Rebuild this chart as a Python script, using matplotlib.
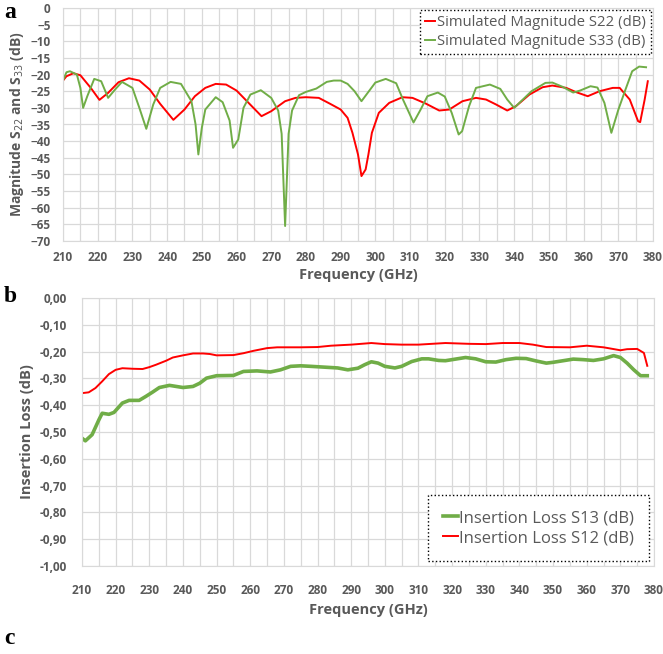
import matplotlib.pyplot as plt
from matplotlib.ticker import MultipleLocator, FuncFormatter

# --- S22 / S33 return loss (dB) ---
f_s22 = [210, 211, 213, 215, 218, 220.5, 223, 226, 229, 232, 235, 238, 241.8, 245, 248,
         251, 254, 257, 260, 263, 267.2, 270, 274, 277, 280, 283.7, 287, 290, 292, 293.4,
         295, 296, 297.2, 298, 299, 301, 304, 307.8, 310.7, 314.5, 318.4, 321.3, 325.1,
         329, 331.9, 334.8, 338, 340.5, 344.4, 348.2, 351, 355, 357.9, 361.2, 364.6,
         368.4, 370.4, 373.3, 375.7, 376.3, 377.6, 378.5]
s22 = [-21.8, -20.5, -19.6, -20.2, -24.0, -27.6, -25.5, -22.3, -21.1, -21.8, -24.5, -28.8,
       -33.6, -30.5, -26.5, -24.0, -22.8, -23.0, -24.8, -28.0, -32.5, -31.0, -28.0, -27.0,
       -26.8, -27.0, -28.8, -30.5, -33.0, -37.5, -44.0, -50.5, -48.5, -44.0, -37.5, -31.5,
       -28.5, -26.8, -27.0, -28.7, -30.8, -30.5, -28.0, -27.0, -27.5, -29.0, -30.8, -29.5,
       -26.0, -23.8, -23.3, -24.0, -25.3, -26.5, -25.0, -24.0, -24.0, -27.5, -34.0, -34.3,
       -27.5, -22.0]

f_s33 = [210, 211, 212, 214, 215, 215.8, 217, 219, 221, 223, 225, 227, 230, 232, 234, 236,
         238, 241, 244, 247, 248.2, 249, 250, 251, 254, 256, 258, 259, 260.5, 262, 264,
         267, 270, 272, 273, 274, 275, 276, 278, 280, 283, 286, 288, 290, 292, 294, 296,
         298, 300, 303, 306, 308, 311, 313, 315, 318, 320, 322, 324, 325, 327, 329, 333,
         336, 338, 340, 342, 345, 349, 351, 354, 357, 359, 362, 364, 366, 368, 370, 372,
         374, 376, 378]
s33 = [-21.8, -19.3, -19.0, -20.0, -24.0, -30.0, -26.5, -21.3, -22.0, -27.0, -24.5, -22.2,
       -24.0, -30.0, -36.3, -29.0, -24.0, -22.2, -22.8, -28.0, -35.0, -44.0, -36.0, -30.5,
       -26.8, -28.3, -33.8, -42.0, -39.5, -30.0, -26.0, -24.7, -27.0, -30.8, -37.8, -65.5,
       -37.8, -30.8, -26.2, -25.2, -24.2, -22.2, -21.8, -21.8, -22.8, -25.0, -28.0, -25.2,
       -22.4, -21.3, -22.6, -27.6, -34.4, -30.6, -26.5, -25.4, -26.6, -31.5, -38.0, -37.0,
       -29.5, -24.0, -23.0, -24.3, -27.5, -30.0, -28.0, -25.0, -22.5, -22.4, -23.7, -25.4,
       -24.8, -23.5, -23.9, -28.5, -37.5, -30.6, -24.7, -19.0, -17.6, -17.8]

# --- Insertion loss S12 / S13 (dB) ---
f_s12 = [210, 212, 214, 216, 218, 220, 222, 225, 228, 230, 232, 235, 237, 240, 243, 246,
         248, 250, 255, 258, 261, 265, 268, 275, 280, 284, 290, 296, 300, 305, 310, 318,
         325, 330, 335, 340, 344, 348, 355, 360, 365, 370, 372, 375, 377, 378]
s12 = [-0.355, -0.352, -0.336, -0.311, -0.284, -0.268, -0.262, -0.264, -0.265, -0.258,
       -0.249, -0.234, -0.222, -0.214, -0.207, -0.207, -0.209, -0.214, -0.213, -0.206,
       -0.197, -0.187, -0.184, -0.184, -0.183, -0.178, -0.174, -0.168, -0.172, -0.174,
       -0.174, -0.168, -0.171, -0.172, -0.168, -0.168, -0.174, -0.183, -0.184, -0.178,
       -0.184, -0.195, -0.191, -0.190, -0.205, -0.253]

f_s13 = [210, 211, 213, 215, 216, 218, 219.5, 222, 224, 227, 229, 231, 233, 236, 238, 240,
         243, 245, 247, 250, 255, 258, 262, 266, 269, 272, 275, 278, 282, 286, 289, 292,
         294, 296, 298, 300, 303, 305, 308, 311, 313, 316, 318, 321, 324, 327, 330, 333,
         336, 339, 342, 345, 348, 350, 353, 356, 359, 362, 365, 368, 370, 372, 374, 376, 378]
s13 = [-0.523, -0.533, -0.510, -0.455, -0.430, -0.434, -0.427, -0.392, -0.382, -0.382,
       -0.367, -0.351, -0.334, -0.326, -0.330, -0.334, -0.330, -0.318, -0.299, -0.290,
       -0.289, -0.274, -0.272, -0.276, -0.268, -0.255, -0.253, -0.255, -0.258, -0.261,
       -0.268, -0.262, -0.249, -0.238, -0.243, -0.255, -0.261, -0.255, -0.237, -0.227,
       -0.227, -0.233, -0.234, -0.228, -0.222, -0.227, -0.238, -0.239, -0.230, -0.225,
       -0.226, -0.235, -0.243, -0.240, -0.234, -0.228, -0.230, -0.233, -0.227, -0.215,
       -0.222, -0.243, -0.268, -0.290, -0.290]

RED = '#ff0000'
GREEN = '#70ad47'
GREY = '#595959'
GRID = '#d9d9d9'
FONT = 'Open Sans'

W, H = 663, 654
fig = plt.figure(figsize=(W / 100, H / 100), dpi=100)


def px_axes(left, top, right, bottom):
    return fig.add_axes([left / W, 1 - bottom / H, (right - left) / W, (bottom - top) / H])


def style(ax, xpad, ypad, xlabelpad):
    ax.set_xlim(210, 380)
    ax.xaxis.set_major_locator(MultipleLocator(10))
    ax.xaxis.set_minor_locator(MultipleLocator(5))
    ax.grid(True, which='both', axis='x', color=GRID, lw=0.9)
    ax.grid(True, which='major', axis='y', color=GRID, lw=0.9)
    ax.set_axisbelow(True)
    for s in ax.spines.values():
        s.set_color(GRID)
    ax.tick_params(which='both', length=0)
    ax.tick_params(axis='x', pad=xpad)
    ax.tick_params(axis='y', pad=ypad)
    ax.tick_params(labelsize=8.5, labelcolor=GREY)
    for lbl in ax.get_xticklabels() + ax.get_yticklabels():
        lbl.set_fontweight('bold')
        lbl.set_family(FONT)
    ax.set_xlabel('Frequency (GHz)', fontsize=10.5, fontweight='bold', color=GREY,
                  family=FONT, labelpad=xlabelpad)


def dotted_frame(leg):
    frame = leg.get_frame()
    frame.set_edgecolor('black')
    frame.set_linestyle(':')
    frame.set_linewidth(1.0)
    for t in leg.get_texts():
        t.set_color(GREY)


# panel a
ax1 = px_axes(63, 8, 653, 241)
ax1.plot(f_s22, s22, color=RED, lw=1.4, label='Simulated Magnitude S22 (dB)')
ax1.plot(f_s33, s33, color=GREEN, lw=1.4, label='Simulated Magnitude S33 (dB)')
ax1.set_ylim(-70, 0)
ax1.yaxis.set_major_locator(MultipleLocator(5))
style(ax1, xpad=7, ypad=9, xlabelpad=3)
ax1.set_ylabel('Magnitude S$_{22}$ and S$_{33}$ (dB)', fontsize=10, fontweight='bold',
               color=GREY, family=FONT, labelpad=3)
leg1 = ax1.legend(loc='upper right', bbox_to_anchor=(1.0, 1.0), borderaxespad=0.15,
                  handlelength=0.7, handletextpad=0.1, borderpad=0.35, labelspacing=0.25,
                  fancybox=False, framealpha=1, prop={'family': FONT, 'size': 10.7})
dotted_frame(leg1)

# panel b
ax2 = px_axes(82, 298, 654, 566)
ax2.plot(f_s13, s13, color=GREEN, lw=2.6, label='Insertion Loss S13 (dB)')
ax2.plot(f_s12, s12, color=RED, lw=1.4, label='Insertion Loss S12 (dB)')
ax2.set_ylim(-1.0, 0.0)
ax2.yaxis.set_major_locator(MultipleLocator(0.1))
ax2.yaxis.set_major_formatter(FuncFormatter(lambda v, p: f'{v:.2f}'.replace('.', ',')))
style(ax2, xpad=13, ypad=11, xlabelpad=4)
ax2.set_ylabel('Insertion Loss (dB)', fontsize=10.5, fontweight='bold', color=GREY,
               family=FONT, labelpad=4)
leg2 = ax2.legend(loc='lower right', bbox_to_anchor=(0.997, 0.005), handlelength=0.9,
                  handletextpad=0.05, borderpad=0.9, labelspacing=0.25, borderaxespad=0.2,
                  fancybox=False, framealpha=1, prop={'family': FONT, 'size': 12})
dotted_frame(leg2)

# panel letters
for letter, y in (('a', 13), ('b', 296), ('c', 638)):
    fig.text(4 / W, 1 - y / H, letter, fontsize=17, fontweight='bold',
             family='Liberation Serif', va='center', ha='left')

fig.savefig('out.png', dpi=100)
